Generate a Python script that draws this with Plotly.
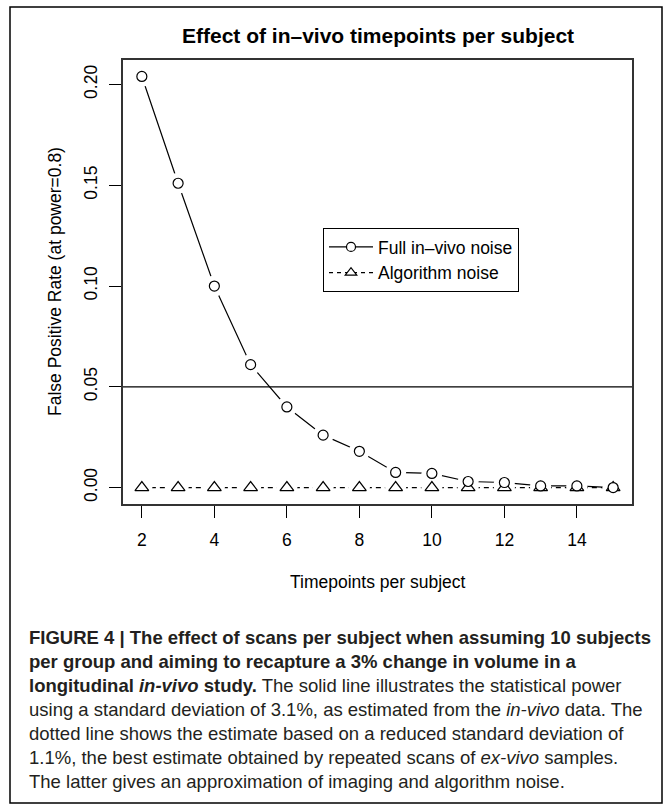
import plotly.graph_objects as go

# ---------------- data ----------------
timepoints = [2, 3, 4, 5, 6, 7, 8, 9, 10, 11, 12, 13, 14, 15]
full_invivo_noise = [0.204, 0.151, 0.100, 0.061, 0.040, 0.026, 0.018, 0.0075, 0.007,
                     0.003, 0.0025, 0.0008, 0.0008, 0.0]
algorithm_noise = [0.0, 0.0, 0.0, 0.0, 0.0, 0.0, 0.0, 0.0, 0.0, 0.0, 0.0, 0.0, 0.0, 0.0]
series_names = ["Full in–vivo noise", "Algorithm noise"]
threshold = 0.05
x_ticks = [2, 4, 6, 8, 10, 12, 14]
y_ticks = [0.00, 0.05, 0.10, 0.15, 0.20]
y_tick_labels = ["0.00", "0.05", "0.10", "0.15", "0.20"]
title_text = "Effect of in–vivo timepoints per subject"
x_title = "Timepoints per subject"
y_title = "False Positive Rate (at power=0.8)"
caption_lines = [
    "<b>FIGURE 4 | The effect of scans per subject when assuming 10 subjects</b>",
    "<b>per group and aiming to recapture a 3% change in volume in a</b>",
    "<b>longitudinal <i>in-vivo</i> study.</b> The solid line illustrates the statistical power",
    "using a standard deviation of 3.1%, as estimated from the <i>in-vivo</i> data. The",
    "dotted line shows the estimate based on a reduced standard deviation of",
    "1.1%, the best estimate obtained by repeated scans of <i>ex-vivo</i> samples.",
    "The latter gives an approximation of imaging and algorithm noise.",
]

# ---------------- layout geometry (pixels) ----------------
W, H = 671, 811
L, R, T, B = 123, 632, 60, 504   # plot area edges


def px(xp):
    return (xp - L) / (R - L)


def py(yp):
    return (B - yp) / (B - T)


FONT = "Liberation Sans, Arial, sans-serif"
FS = 17.5  # R cex=1 text size (axes, labels, legend)

# R-style axis range extension (4%)
xmin, xmax = min(timepoints), max(timepoints)
ymax = max(full_invivo_noise + algorithm_noise)
ymin = min(full_invivo_noise + algorithm_noise)
xr = [xmin - 0.04 * (xmax - xmin), xmax + 0.04 * (xmax - xmin)]
yr = [ymin - 0.04 * (ymax - ymin), ymax + 0.04 * (ymax - ymin)]

fig = go.Figure()

# lines
fig.add_trace(go.Scatter(x=timepoints, y=full_invivo_noise, mode="lines",
                         line=dict(color="black", width=1.2), showlegend=False,
                         hoverinfo="skip"))
fig.add_trace(go.Scatter(x=timepoints, y=algorithm_noise, mode="lines",
                         line=dict(color="black", width=1.2, dash="5px,4px"),
                         showlegend=False, hoverinfo="skip"))
# white halos to create R type="b" gaps
for ys in (full_invivo_noise, algorithm_noise):
    fig.add_trace(go.Scatter(x=timepoints, y=ys, mode="markers",
                             marker=dict(symbol="circle", size=21, color="white",
                                         line=dict(width=0)),
                             showlegend=False, hoverinfo="skip"))
# symbols
fig.add_trace(go.Scatter(x=timepoints, y=algorithm_noise, mode="markers",
                         marker=dict(symbol="triangle-up", size=12, color="white",
                                     line=dict(color="black", width=1.2)),
                         showlegend=False))
fig.add_trace(go.Scatter(x=timepoints, y=full_invivo_noise, mode="markers",
                         marker=dict(symbol="circle", size=10, color="white",
                                     line=dict(color="black", width=1.2)),
                         showlegend=False))
# legend entries
fig.add_trace(go.Scatter(x=[None], y=[None], mode="lines+markers", name=series_names[0],
                         line=dict(color="black", width=1.2),
                         marker=dict(symbol="circle", size=9, color="white",
                                     line=dict(color="black", width=1.2))))
fig.add_trace(go.Scatter(x=[None], y=[None], mode="lines+markers", name=series_names[1],
                         line=dict(color="black", width=1.2, dash="4px,4px"),
                         marker=dict(symbol="triangle-up", size=10, color="white",
                                     line=dict(color="black", width=1.2))))

# threshold line
fig.add_shape(type="line", xref="paper", yref="y", x0=0, x1=1, y0=threshold, y1=threshold,
              line=dict(color="black", width=1.3), layer="below")

# outer figure frame
fig.add_shape(type="rect", xref="paper", yref="paper",
              x0=px(10), x1=px(662), y0=py(7), y1=py(803),
              line=dict(color="black", width=1.5))

annotations = [
    dict(text=f"<b>{title_text}</b>", x=px((L + R) / 2), y=py(35), xref="paper", yref="paper",
         showarrow=False, xanchor="center", yanchor="middle",
         font=dict(family=FONT, size=21, color="black")),
    dict(text=x_title, x=px((L + R) / 2), y=py(582), xref="paper", yref="paper",
         showarrow=False, xanchor="center", yanchor="middle",
         font=dict(family=FONT, size=FS, color="black")),
    dict(text=y_title, x=px(55), y=py((T + B) / 2), xref="paper", yref="paper",
         showarrow=False, xanchor="center", yanchor="middle", textangle=-90,
         font=dict(family=FONT, size=FS, color="black")),
]
cap_y0, cap_dy = 637, 24
for i, line in enumerate(caption_lines):
    annotations.append(dict(text=line, x=px(27), y=py(cap_y0 + i * cap_dy),
                            xref="paper", yref="paper", showarrow=False,
                            xanchor="left", yanchor="middle", align="left",
                            font=dict(family=FONT, size=18.5, color="#231f20")))

fig.update_layout(
    width=W, height=H,
    margin=dict(l=L, r=W - R, t=T, b=H - B, pad=0),
    paper_bgcolor="white", plot_bgcolor="white",
    font=dict(family=FONT, size=FS, color="black"),
    xaxis=dict(range=xr, tickmode="array", tickvals=x_ticks,
               ticks="outside", ticklen=12, tickwidth=1.2, tickcolor="black",
               showline=True, linecolor="#333", linewidth=1.5, mirror=True,
               showgrid=False, zeroline=False, ticklabelstandoff=7,
               tickfont=dict(family=FONT, size=FS, color="black")),
    yaxis=dict(range=yr, tickmode="array", tickvals=y_ticks, ticktext=y_tick_labels,
               ticks="outside", ticklen=12, tickwidth=1.2, tickcolor="black",
               showline=True, linecolor="#333", linewidth=1.5, mirror=True,
               showgrid=False, zeroline=False, tickangle=-90, ticklabelstandoff=5,
               tickfont=dict(family=FONT, size=FS, color="black")),
    legend=dict(x=px(323), y=py(228), xanchor="left", yanchor="top",
                bordercolor="black", borderwidth=1, bgcolor="white",
                font=dict(family=FONT, size=FS, color="black"),
                itemwidth=44, tracegroupgap=0),
    annotations=annotations,
)

fig.write_html("out.html")
